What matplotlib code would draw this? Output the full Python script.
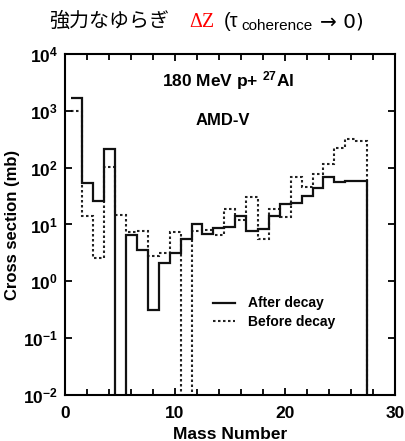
import matplotlib
matplotlib.use('Agg')
import matplotlib.pyplot as plt
import numpy as np
from matplotlib.ticker import FixedLocator, FuncFormatter, MultipleLocator

plt.rcParams['font.family'] = ['Liberation Sans', 'DejaVu Sans']
plt.rcParams['mathtext.fontset'] = 'custom'
plt.rcParams['mathtext.rm'] = 'Liberation Sans'
plt.rcParams['mathtext.bf'] = 'Liberation Sans:bold'
plt.rcParams['mathtext.it'] = 'Liberation Sans:italic'

# mass numbers (bin centres) and cross sections in mb
mass = np.arange(1, 29)
after_decay = [1660, 54, 26, 215, 0, 6.5, 3.6, 0.31, 2.1, 3.2, 5.5, 10, 6.7, 8.7,
               9.1, 14, 7.6, 8.5, 14, 23, 24, 32, 44, 68, 56, 59, 58, 0]
before_decay = [1000, 14, 2.6, 104, 14.5, 7.4, 7.6, 2.8, 3.2, 7.3, 0, 7.7, 7.9, 6.5,
                19, 12, 31, 5.5, 19, 13.5, 69, 46, 78, 115, 218, 316, 290, 0]

fig = plt.figure(figsize=(4.05, 4.41), dpi=100)
ax = fig.add_axes([65/405, 1-395/441, 330/405, 341/441])

edges = np.append(mass - 0.5, mass[-1] + 0.5)
# zeros sit far below the axis so the step falls to the bottom edge
a = np.where(np.array(after_decay) > 0, after_decay, 1e-6)
b = np.where(np.array(before_decay) > 0, before_decay, 1e-6)
ax.stairs(b, edges, baseline=None, color='#222222', lw=1.5, ls=(0, (1.2, 1.2)),
          label='Before decay')
ax.stairs(a, edges, baseline=None, color='#111111', lw=1.6, label='After decay')

ax.set_yscale('log')
ax.set_xlim(0, 30)
ax.set_ylim(1e-2, 1e4)

ax.xaxis.set_major_locator(FixedLocator([0, 10, 20, 30]))
ax.xaxis.set_minor_locator(MultipleLocator(2))
ax.yaxis.set_major_locator(FixedLocator([1e-2, 1e-1, 1, 1e1, 1e2, 1e3, 1e4]))
ax.yaxis.set_minor_locator(FixedLocator([]))
ax.yaxis.set_major_formatter(FuncFormatter(
    lambda v, p: r'$\mathbf{10^{%d}}$' % round(np.log10(v))))
ax.xaxis.set_major_formatter(FuncFormatter(lambda v, p: '%d' % v))
ax.tick_params(which='both', direction='in', top=True, right=True, width=1.3)
ax.tick_params(which='major', length=5)
ax.tick_params(which='minor', length=4)
ax.tick_params(axis='x', which='major', pad=8, labelsize=12.5)
ax.tick_params(axis='y', which='major', pad=5, labelsize=12.5)
for lab in ax.get_xticklabels():
    lab.set_fontweight('bold')
for s in ax.spines.values():
    s.set_linewidth(1.5)

ax.set_xlabel('Mass Number', fontsize=12.5, fontweight='bold', labelpad=4)
ax.set_ylabel('Cross section (mb)', fontsize=12, fontweight='bold', labelpad=2)

ax.text(0.295, 0.922, r'180 MeV p+ $\mathbf{^{27}}$Al', transform=ax.transAxes,
        fontsize=12.5, fontweight='bold', va='center')
ax.text(0.395, 0.805, 'AMD-V', transform=ax.transAxes, fontsize=12,
        fontweight='bold', va='center')

h, l = ax.get_legend_handles_labels()
ax.legend(h[::-1], l[::-1], loc='upper left', bbox_to_anchor=(0.448, 0.289),
          frameon=False, prop={'weight': 'bold', 'size': 10},
          handlelength=1.6, handletextpad=0.9, labelspacing=0.3,
          borderpad=0, borderaxespad=0)

# title made of pieces with different fonts and colours
fig.canvas.draw()
r = fig.canvas.get_renderer()
W = fig.bbox.width
base = 1 - 27/441
pieces = [
    ('強力なゆらぎ', dict(family=['Noto Sans CJK JP', 'DejaVu Sans'], size=14.4, color='black'), 0, 20),
    ('ΔZ', dict(family=['Liberation Serif', 'DejaVu Serif'], size=14.4, color='red'), 0, 10),
    ('(τ', dict(family=['Liberation Sans', 'DejaVu Sans'], size=14.4, color='black'), 0, 3),
    ('coherence', dict(family=['Liberation Sans', 'DejaVu Sans'], size=11, color='black'), -3, 7),
    ('→ 0)', dict(family=['DejaVu Sans'], size=14.4, color='black'), 0, 0),
]
x = 49
for s, kw, dy, gap in pieces:
    t = fig.text(x / W, base + dy / fig.bbox.height, s, va='baseline', ha='left', **kw)
    bb = t.get_window_extent(r)
    x = bb.x1 + gap

fig.savefig('out.png', dpi=100)
